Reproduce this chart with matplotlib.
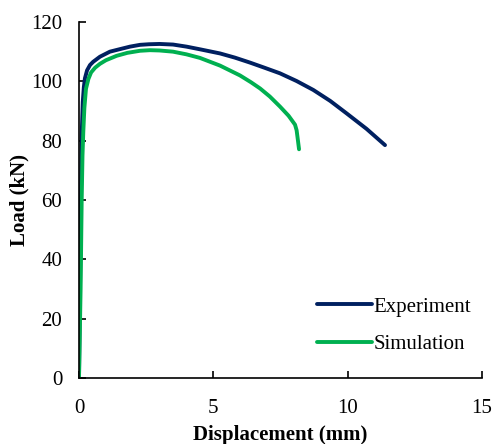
import numpy as np
import matplotlib
matplotlib.use("Agg")
import matplotlib.pyplot as plt

plt.rcParams['font.family'] = ['Liberation Serif', 'DejaVu Serif']

# Experiment curve (displacement mm, load kN)
exp_x = [0, 0.05, 0.1, 0.14, 0.18, 0.22, 0.3, 0.41, 0.53, 0.78, 1.15, 1.5, 1.9, 2.27, 2.6,
         3.0, 3.5, 4.0, 4.5, 5.25, 5.8, 6.37, 6.9, 7.48, 8.1, 8.72, 9.35, 9.96, 10.7, 11.39]
exp_y = [0, 40, 82, 93, 98, 101, 103.7, 105.5, 106.6, 108.3, 110.0, 110.8, 111.7, 112.3, 112.5,
         112.6, 112.4, 111.7, 110.8, 109.4, 108.0, 106.3, 104.6, 102.7, 100.1, 97.1, 93.4, 89.2, 84.0, 78.5]

# Simulation curve
sim_x = [0, 0.06, 0.1, 0.13, 0.16, 0.2, 0.26, 0.35, 0.45, 0.6, 0.78, 1.0, 1.4, 1.8, 2.27,
         2.64, 3.0, 3.5, 4.0, 4.5, 5.25, 5.99, 6.4, 6.74, 7.1, 7.48, 7.8, 8.04, 8.1, 8.15, 8.19]
sim_y = [0, 30, 60, 75, 83, 91, 97.5, 100.8, 103.0, 104.6, 105.9, 107.1, 108.6, 109.6, 110.3,
         110.5, 110.4, 110.0, 109.1, 107.9, 105.3, 102.0, 99.7, 97.6, 94.9, 91.5, 88.4, 85.4, 83.5, 80.0, 77.1]

fig = plt.figure(figsize=(4.95, 4.44), dpi=100)
ax = fig.add_axes([79/495, 66/444, 403/495, 356/444])

ax.plot(exp_x, exp_y, color='#002060', lw=2.8, solid_capstyle='round', solid_joinstyle='round',
        label='Experiment')
ax.plot(sim_x, sim_y, color='#00B050', lw=2.8, solid_capstyle='round', solid_joinstyle='round',
        label='Simulation')

ax.set_xlim(0, 15)
ax.set_ylim(0, 120)
ax.set_xticks([0, 5, 10, 15])
ax.set_yticks(range(0, 121, 20))
ax.spines['top'].set_visible(False)
ax.spines['right'].set_visible(False)
ax.tick_params(direction='in', length=5, width=1.2, labelsize=15)
ax.tick_params(axis='x', pad=15)
ax.tick_params(axis='y', pad=12)
for s in ['left', 'bottom']:
    ax.spines[s].set_linewidth(1.2)

ax.set_xlabel('Displacement (mm)', fontsize=15, fontweight='bold', labelpad=5)
ax.set_ylabel('Load (kN)', fontsize=15, fontweight='bold', labelpad=1)

ax.legend(loc='lower right', bbox_to_anchor=(1.02, 0.015), frameon=False, fontsize=15,
          handlelength=2.6, handletextpad=0.1, labelspacing=0.85)

fig.savefig('out.png', dpi=100)
